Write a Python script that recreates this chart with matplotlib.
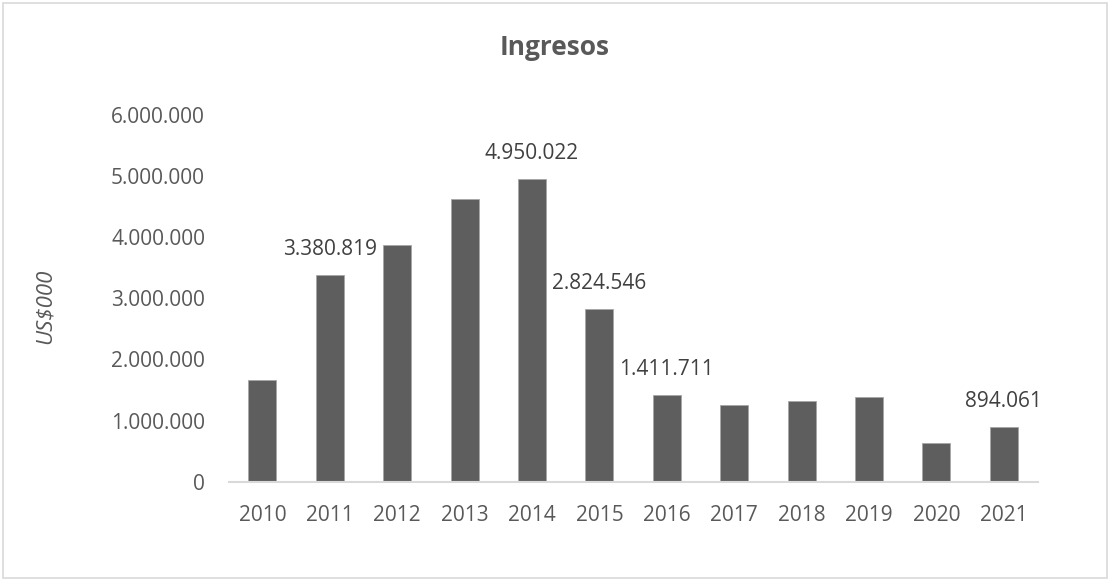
import matplotlib
matplotlib.use('Agg')
import matplotlib.pyplot as plt
from matplotlib.patches import Rectangle

# Data (US$000)
years = ['2010', '2011', '2012', '2013', '2014', '2015',
         '2016', '2017', '2018', '2019', '2020', '2021']
ingresos = [1660000, 3380819, 3880000, 4623000, 4950022, 2824546,
            1411711, 1250000, 1316000, 1381000, 638000, 894061]
# bars that carry a value label
labelled = ['2011', '2014', '2015', '2016', '2021']


def fmt(v):
    return f'{v:,.0f}'.replace(',', '.')


plt.rcParams['font.family'] = ['Open Sans', 'DejaVu Sans']
text_color = '#595959'

fig = plt.figure(figsize=(11.10, 5.81), dpi=100)
ax = fig.add_axes([0.206, 0.171, 0.7287, 0.6309])

x = list(range(len(years)))
ax.bar(x, ingresos, width=0.415, color='#5e5e5e', edgecolor='#a6a6a6', linewidth=0.6)

for i, (yr, v) in enumerate(zip(years, ingresos)):
    if yr in labelled:
        ax.annotate(fmt(v), (i, v), xytext=(0, 18.5), textcoords='offset points',
                    ha='center', va='center', fontsize=15, color='#404040')

ax.set_xlim(-0.5, len(years) - 0.5)
ax.set_ylim(0, 6000000)
ax.set_yticks(range(0, 6000001, 1000000))
ax.set_yticklabels([fmt(v) for v in range(0, 6000001, 1000000)])
ax.set_xticks(x)
ax.set_xticklabels(years)
ax.tick_params(axis='both', length=0, labelsize=15, colors=text_color)
ax.tick_params(axis='y', pad=17)
ax.tick_params(axis='x', pad=17)

for s in ['top', 'right', 'left']:
    ax.spines[s].set_visible(False)
ax.spines['bottom'].set_color('#d9d9d9')
ax.spines['bottom'].set_linewidth(1.5)

fig.text(0.5, 0.918, 'Ingresos', ha='center', va='center', fontsize=19,
         fontweight='bold', color=text_color)
fig.text(0.0405, 0.472, 'US$000', ha='center', va='center', rotation=90,
         fontsize=16, style='italic', color=text_color)

# light chart-area border
fig.patches.append(Rectangle((0.003, 0.006), 0.994, 0.988, transform=fig.transFigure,
                             fill=False, edgecolor='#d9d9d9', linewidth=1.2))

fig.savefig('out.png', dpi=100)
